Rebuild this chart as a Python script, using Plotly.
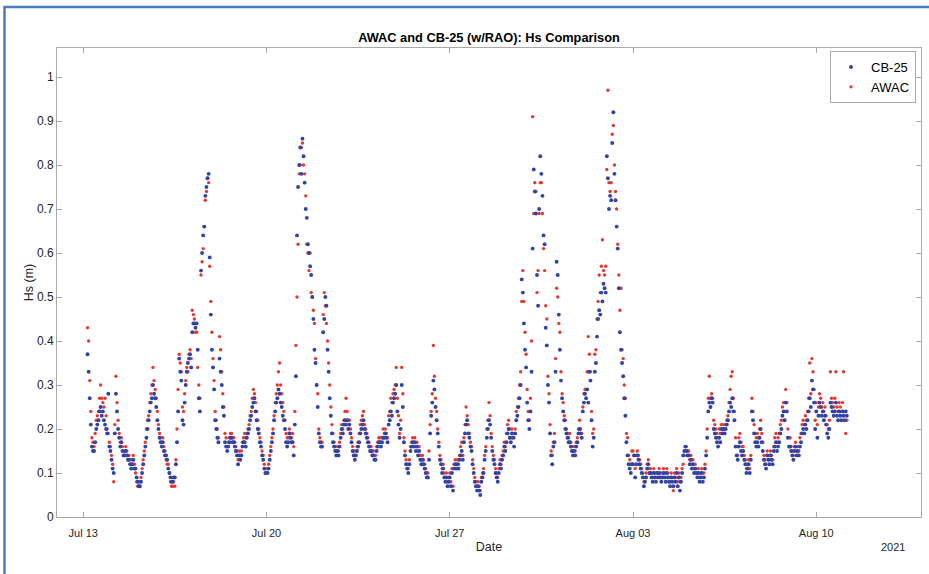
import plotly.graph_objects as go
import pandas as pd

# ---- data: Hs in metres, one row per day, hourly samples from 00:00 ----
start_day = "2021-07-13 00:00"
step_hours = 1
N = None

cb25_hs = [
    [N, N, N, N, 0.37, 0.33, 0.27, 0.21, 0.16, 0.15, 0.15, 0.17, 0.20, 0.21, 0.22, 0.24, 0.25, 0.23, 0.24, 0.22, 0.21, 0.20, 0.19, 0.28],  # Jul 13
    [0.16, 0.15, 0.13, 0.11, 0.10, 0.19, 0.28, 0.24, 0.20, 0.18, 0.16, 0.17, 0.15, 0.14, 0.14, 0.15, 0.14, 0.13, 0.13, 0.12, 0.11, 0.12, 0.13, 0.11],  # Jul 14
    [0.11, 0.09, 0.08, 0.07, 0.07, 0.08, 0.10, 0.12, 0.14, 0.16, 0.18, 0.20, 0.22, 0.24, 0.26, 0.27, 0.30, 0.28, 0.27, 0.25, 0.22, 0.20, 0.18, 0.17],  # Jul 15
    [0.16, 0.17, 0.15, 0.14, 0.14, 0.13, 0.11, 0.10, 0.09, 0.08, 0.08, 0.09, 0.09, 0.12, 0.17, 0.24, 0.36, 0.33, 0.31, 0.22, 0.21, 0.26, 0.30, 0.33],  # Jul 16
    [0.35, 0.36, 0.37, 0.34, 0.42, 0.44, 0.44, 0.43, 0.44, 0.38, 0.27, 0.24, 0.56, 0.60, 0.64, 0.66, 0.73, 0.75, 0.77, 0.78, 0.59, 0.46, 0.38, 0.34],  # Jul 17
    [0.29, 0.22, 0.20, 0.18, 0.17, 0.36, 0.33, 0.30, 0.25, 0.23, 0.17, 0.16, 0.15, 0.16, 0.17, 0.18, 0.18, 0.17, 0.17, 0.16, 0.15, 0.14, 0.12, 0.14],  # Jul 18
    [0.13, 0.14, 0.16, 0.17, 0.17, 0.16, 0.18, 0.19, 0.20, 0.22, 0.23, 0.25, 0.26, 0.27, 0.24, 0.22, 0.20, 0.19, 0.17, 0.16, 0.14, 0.13, 0.11, 0.10],  # Jul 19
    [0.10, 0.10, 0.11, 0.13, 0.15, 0.17, 0.19, 0.22, 0.24, 0.26, 0.27, 0.29, 0.28, 0.26, 0.25, 0.23, 0.22, 0.20, 0.17, 0.16, 0.17, 0.19, 0.18, 0.17],  # Jul 20
    [0.17, 0.14, 0.21, 0.32, 0.64, 0.75, 0.80, 0.84, 0.78, 0.86, 0.82, 0.76, 0.70, 0.68, 0.62, 0.60, 0.57, 0.55, 0.50, 0.45, 0.38, 0.35, 0.30, 0.25],  # Jul 21
    [0.19, 0.17, 0.16, 0.16, 0.42, 0.45, 0.50, 0.48, 0.38, 0.33, 0.27, 0.23, 0.19, 0.17, 0.16, 0.15, 0.14, 0.15, 0.14, 0.16, 0.18, 0.20, 0.19, 0.21],  # Jul 22
    [0.22, 0.21, 0.22, 0.20, 0.21, 0.19, 0.17, 0.15, 0.14, 0.13, 0.14, 0.15, 0.16, 0.17, 0.19, 0.20, 0.21, 0.22, 0.20, 0.19, 0.18, 0.17, 0.16, 0.15],  # Jul 23
    [0.15, 0.14, 0.14, 0.13, 0.13, 0.15, 0.16, 0.17, 0.17, 0.16, 0.17, 0.18, 0.18, 0.19, 0.18, 0.17, 0.21, 0.22, 0.24, 0.23, 0.26, 0.27, 0.28, 0.30],  # Jul 24
    [0.24, 0.21, 0.18, 0.20, 0.30, 0.25, 0.17, 0.14, 0.12, 0.11, 0.10, 0.12, 0.15, 0.16, 0.17, 0.16, 0.17, 0.15, 0.16, 0.14, 0.15, 0.13, 0.12, 0.13],  # Jul 25
    [0.12, 0.11, 0.10, 0.09, 0.09, 0.13, 0.19, 0.23, 0.26, 0.31, 0.29, 0.25, 0.22, 0.19, 0.16, 0.13, 0.12, 0.10, 0.11, 0.09, 0.08, 0.09, 0.07, 0.08],  # Jul 26
    [0.09, 0.07, 0.10, 0.06, 0.11, 0.12, 0.11, 0.12, 0.11, 0.13, 0.14, 0.15, 0.13, 0.17, 0.19, 0.21, 0.22, 0.19, 0.18, 0.16, 0.15, 0.12, 0.10, 0.08],  # Jul 27
    [0.07, 0.06, 0.07, 0.06, 0.05, 0.08, 0.09, 0.10, 0.13, 0.15, 0.18, 0.20, 0.22, 0.21, 0.18, 0.15, 0.13, 0.12, 0.10, 0.09, 0.08, 0.10, 0.12, 0.11],  # Jul 28
    [0.13, 0.14, 0.16, 0.15, 0.17, 0.19, 0.20, 0.18, 0.17, 0.19, 0.18, 0.16, 0.19, 0.22, 0.23, 0.25, 0.27, 0.30, 0.54, 0.51, 0.44, 0.38, 0.34, 0.26],  # Jul 29
    [0.22, 0.20, 0.24, 0.33, 0.61, 0.79, 0.74, 0.69, 0.55, 0.48, 0.70, 0.82, 0.78, 0.73, 0.64, 0.62, 0.43, 0.39, 0.30, 0.26, 0.19, 0.14, 0.12, 0.16],  # Jul 30
    [0.17, 0.33, 0.58, 0.55, 0.46, 0.38, 0.31, 0.27, 0.24, 0.22, 0.20, 0.19, 0.18, 0.17, 0.17, 0.16, 0.15, 0.14, 0.15, 0.14, 0.16, 0.17, 0.19, 0.20],  # Jul 31
    [0.19, 0.18, 0.24, 0.26, 0.28, 0.27, 0.29, 0.26, 0.33, 0.31, 0.22, 0.16, 0.18, 0.33, 0.35, 0.41, 0.45, 0.47, 0.46, 0.51, 0.49, 0.53, 0.52, 0.51],  # Aug 01
    [0.82, 0.77, 0.70, 0.73, 0.72, 0.85, 0.92, 0.78, 0.72, 0.66, 0.61, 0.52, 0.42, 0.38, 0.35, 0.32, 0.27, 0.23, 0.17, 0.14, 0.12, 0.11, 0.10, 0.12],  # Aug 02
    [0.12, 0.14, 0.09, 0.12, 0.14, 0.13, 0.12, 0.11, 0.10, 0.09, 0.07, 0.08, 0.09, 0.11, 0.12, 0.10, 0.10, 0.09, 0.08, 0.10, 0.09, 0.08, 0.10, 0.09],  # Aug 03
    [0.10, 0.09, 0.08, 0.09, 0.10, 0.09, 0.08, 0.10, 0.09, 0.08, 0.07, 0.09, 0.08, 0.07, 0.09, 0.08, 0.10, 0.07, 0.09, 0.06, 0.08, 0.10, 0.14, 0.15],  # Aug 04
    [0.16, 0.15, 0.14, 0.14, 0.12, 0.13, 0.11, 0.12, 0.10, 0.11, 0.10, 0.09, 0.10, 0.08, 0.09, 0.10, 0.08, 0.09, 0.11, 0.14, 0.18, 0.24, 0.26, 0.25],  # Aug 05
    [0.27, 0.26, 0.20, 0.19, 0.18, 0.17, 0.16, 0.18, 0.17, 0.20, 0.19, 0.20, 0.19, 0.20, 0.21, 0.22, 0.24, 0.26, 0.25, 0.27, 0.24, 0.22, 0.16, 0.14],  # Aug 06
    [0.13, 0.16, 0.17, 0.15, 0.14, 0.15, 0.13, 0.12, 0.10, 0.11, 0.12, 0.10, 0.13, 0.24, 0.22, 0.19, 0.17, 0.16, 0.17, 0.16, 0.18, 0.20, 0.17, 0.15],  # Aug 07
    [0.13, 0.12, 0.11, 0.14, 0.13, 0.12, 0.14, 0.13, 0.12, 0.15, 0.16, 0.17, 0.15, 0.16, 0.17, 0.19, 0.20, 0.23, 0.24, 0.22, 0.26, 0.24, 0.18, 0.16],  # Aug 08
    [0.16, 0.15, 0.14, 0.13, 0.15, 0.16, 0.14, 0.15, 0.14, 0.16, 0.17, 0.19, 0.20, 0.19, 0.21, 0.20, 0.22, 0.24, 0.27, 0.25, 0.31, 0.29, 0.26, 0.20],  # Aug 09
    [0.24, 0.18, 0.23, 0.26, 0.25, 0.23, 0.24, 0.22, 0.23, 0.21, 0.19, 0.18, 0.20, 0.26, 0.25, 0.24, 0.23, 0.24, 0.26, 0.23, 0.22, 0.24, 0.23, 0.22],  # Aug 10
    [0.24, 0.23, 0.22, 0.24, 0.23],                                                                                                      # Aug 11
]

awac_hs = [
    [N, N, N, N, 0.43, 0.40, 0.31, 0.24, 0.18, 0.17, 0.16, 0.19, 0.22, 0.23, 0.24, 0.27, 0.30, 0.27, 0.26, 0.25, 0.27, 0.23, 0.20, 0.19],  # Jul 13
    [0.17, 0.16, 0.14, 0.12, 0.08, 0.21, 0.32, 0.26, 0.22, 0.19, 0.17, 0.18, 0.16, 0.15, 0.15, 0.16, 0.15, 0.14, 0.14, 0.13, 0.12, 0.13, 0.14, 0.12],  # Jul 14
    [0.10, 0.08, 0.07, 0.07, 0.08, 0.09, 0.11, 0.13, 0.15, 0.17, 0.20, 0.22, 0.23, 0.26, 0.28, 0.30, 0.34, 0.31, 0.29, 0.27, 0.24, 0.21, 0.19, 0.18],  # Jul 15
    [0.17, 0.18, 0.16, 0.15, 0.13, 0.12, 0.12, 0.10, 0.08, 0.07, 0.07, 0.08, 0.07, 0.13, 0.20, 0.29, 0.37, 0.35, 0.33, 0.25, 0.24, 0.28, 0.31, 0.34],  # Jul 16
    [0.33, 0.37, 0.38, 0.36, 0.47, 0.46, 0.45, 0.42, 0.42, 0.34, 0.30, 0.27, 0.55, 0.58, 0.61, 0.66, 0.72, 0.74, 0.77, 0.76, 0.57, 0.49, 0.42, 0.36],  # Jul 17
    [0.31, 0.24, 0.22, 0.20, 0.18, 0.41, 0.38, 0.33, 0.28, 0.25, 0.19, 0.18, 0.16, 0.17, 0.18, 0.19, 0.19, 0.18, 0.18, 0.17, 0.16, 0.15, 0.13, 0.15],  # Jul 18
    [0.14, 0.15, 0.17, 0.18, 0.19, 0.18, 0.19, 0.20, 0.21, 0.23, 0.24, 0.27, 0.29, 0.28, 0.26, 0.24, 0.22, 0.20, 0.18, 0.17, 0.15, 0.14, 0.12, 0.11],  # Jul 19
    [0.10, 0.11, 0.12, 0.14, 0.16, 0.18, 0.20, 0.23, 0.26, 0.28, 0.30, 0.33, 0.35, 0.30, 0.28, 0.26, 0.24, 0.22, 0.19, 0.18, 0.18, 0.20, 0.19, 0.18],  # Jul 20
    [0.19, 0.16, 0.24, 0.39, 0.50, 0.62, 0.78, 0.80, 0.84, 0.85, 0.80, 0.78, 0.73, 0.62, 0.60, 0.56, 0.60, 0.51, 0.50, 0.47, 0.44, 0.36, 0.30, 0.28],  # Jul 21
    [0.20, 0.18, 0.17, 0.17, 0.46, 0.51, 0.48, 0.44, 0.40, 0.35, 0.30, 0.25, 0.21, 0.19, 0.17, 0.16, 0.15, 0.16, 0.15, 0.17, 0.19, 0.21, 0.20, 0.22],  # Jul 22
    [0.24, 0.27, 0.24, 0.22, 0.22, 0.20, 0.18, 0.16, 0.15, 0.14, 0.15, 0.16, 0.17, 0.19, 0.21, 0.22, 0.23, 0.24, 0.21, 0.20, 0.19, 0.18, 0.17, 0.16],  # Jul 23
    [0.16, 0.15, 0.15, 0.14, 0.14, 0.16, 0.17, 0.18, 0.18, 0.17, 0.18, 0.20, 0.19, 0.20, 0.19, 0.18, 0.23, 0.24, 0.27, 0.26, 0.28, 0.29, 0.30, 0.34],  # Jul 24
    [0.27, 0.23, 0.19, 0.22, 0.34, 0.28, 0.18, 0.15, 0.13, 0.12, 0.11, 0.13, 0.16, 0.17, 0.18, 0.17, 0.18, 0.16, 0.17, 0.15, 0.16, 0.14, 0.13, 0.14],  # Jul 25
    [0.13, 0.12, 0.11, 0.10, 0.10, 0.15, 0.21, 0.24, 0.28, 0.39, 0.32, 0.27, 0.24, 0.20, 0.17, 0.14, 0.13, 0.11, 0.12, 0.10, 0.09, 0.10, 0.08, 0.09],  # Jul 26
    [0.10, 0.08, 0.11, 0.07, 0.12, 0.13, 0.12, 0.13, 0.12, 0.14, 0.16, 0.17, 0.14, 0.18, 0.21, 0.25, 0.23, 0.21, 0.19, 0.17, 0.16, 0.13, 0.11, 0.09],  # Jul 27
    [0.08, 0.07, 0.08, 0.07, 0.06, 0.09, 0.10, 0.11, 0.14, 0.16, 0.20, 0.22, 0.26, 0.23, 0.19, 0.16, 0.14, 0.13, 0.11, 0.10, 0.09, 0.11, 0.13, 0.12],  # Jul 28
    [0.14, 0.15, 0.17, 0.16, 0.19, 0.21, 0.22, 0.20, 0.18, 0.20, 0.19, 0.18, 0.20, 0.24, 0.25, 0.27, 0.30, 0.33, 0.49, 0.56, 0.49, 0.42, 0.37, 0.29],  # Jul 29
    [0.24, 0.22, 0.27, 0.40, 0.91, 0.69, 0.76, 0.74, 0.51, 0.56, 0.69, 0.76, 0.76, 0.69, 0.61, 0.56, 0.48, 0.45, 0.32, 0.28, 0.21, 0.15, 0.14, 0.17],  # Jul 30
    [0.19, 0.36, 0.52, 0.50, 0.44, 0.42, 0.33, 0.28, 0.26, 0.23, 0.22, 0.20, 0.19, 0.18, 0.19, 0.17, 0.16, 0.15, 0.16, 0.15, 0.17, 0.18, 0.20, 0.22],  # Jul 31
    [0.20, 0.19, 0.25, 0.28, 0.29, 0.29, 0.33, 0.41, 0.37, 0.33, 0.24, 0.19, 0.20, 0.37, 0.38, 0.45, 0.49, 0.55, 0.51, 0.57, 0.63, 0.56, 0.55, 0.57],  # Aug 01
    [0.79, 0.97, 0.76, 0.74, 0.76, 0.87, 0.89, 0.80, 0.74, 0.70, 0.62, 0.55, 0.47, 0.52, 0.38, 0.36, 0.30, 0.27, 0.19, 0.18, 0.14, 0.13, 0.12, 0.15],  # Aug 02
    [0.15, 0.14, 0.11, 0.14, 0.15, 0.14, 0.13, 0.12, 0.11, 0.10, 0.08, 0.09, 0.10, 0.12, 0.13, 0.11, 0.11, 0.10, 0.09, 0.11, 0.10, 0.09, 0.10, 0.10],  # Aug 03
    [0.11, 0.10, 0.09, 0.10, 0.11, 0.10, 0.09, 0.11, 0.10, 0.09, 0.08, 0.10, 0.09, 0.06, 0.10, 0.09, 0.11, 0.08, 0.10, 0.08, 0.09, 0.11, 0.12, 0.14],  # Aug 04
    [0.16, 0.16, 0.15, 0.15, 0.13, 0.14, 0.12, 0.13, 0.11, 0.12, 0.11, 0.10, 0.11, 0.09, 0.10, 0.11, 0.09, 0.10, 0.12, 0.15, 0.20, 0.27, 0.32, 0.27],  # Aug 05
    [0.28, 0.27, 0.22, 0.21, 0.20, 0.19, 0.18, 0.20, 0.19, 0.21, 0.20, 0.21, 0.20, 0.21, 0.22, 0.23, 0.26, 0.29, 0.32, 0.33, 0.27, 0.24, 0.18, 0.16],  # Aug 06
    [0.14, 0.18, 0.19, 0.17, 0.16, 0.16, 0.14, 0.13, 0.11, 0.12, 0.13, 0.11, 0.14, 0.27, 0.24, 0.21, 0.19, 0.18, 0.19, 0.18, 0.20, 0.22, 0.19, 0.17],  # Aug 07
    [0.14, 0.13, 0.12, 0.15, 0.14, 0.13, 0.15, 0.14, 0.13, 0.16, 0.18, 0.19, 0.17, 0.18, 0.19, 0.21, 0.22, 0.25, 0.26, 0.24, 0.29, 0.26, 0.20, 0.18],  # Aug 08
    [0.18, 0.16, 0.15, 0.14, 0.16, 0.17, 0.15, 0.16, 0.15, 0.18, 0.19, 0.21, 0.22, 0.21, 0.23, 0.22, 0.24, 0.27, 0.35, 0.28, 0.36, 0.33, 0.29, 0.22],  # Aug 09
    [0.26, 0.21, 0.25, 0.28, 0.27, 0.25, 0.26, 0.24, 0.25, 0.23, 0.21, 0.20, 0.22, 0.33, 0.27, 0.26, 0.25, 0.27, 0.33, 0.25, 0.24, 0.26, 0.25, 0.24],  # Aug 10
    [0.26, 0.33, 0.24, 0.19, 0.22],                                                                                                      # Aug 11
]

tick_dates = ["2021-07-13", "2021-07-20", "2021-07-27", "2021-08-03", "2021-08-10"]
tick_text = ["Jul 13", "Jul 20", "Jul 27", "Aug 03", "Aug 10"]
y_ticks = [0, 0.1, 0.2, 0.3, 0.4, 0.5, 0.6, 0.7, 0.8, 0.9, 1.0]
y_tick_text = ["0", "0.1", "0.2", "0.3", "0.4", "0.5", "0.6", "0.7", "0.8", "0.9", "1"]


def to_series(days):
    t0 = pd.Timestamp(start_day)
    times, vals = [], []
    for d, row in enumerate(days):
        for i, v in enumerate(row):
            if v is not None:
                times.append(t0 + pd.Timedelta(days=d, hours=step_hours * i))
                vals.append(v)
    return times, vals


t_cb, v_cb = to_series(cb25_hs)
t_aw, v_aw = to_series(awac_hs)

BLUE = "#3044a6"
RED = "#e23a33"
AXIS = "#a9a9a9"
TXT = "#262626"
FONT = "Liberation Sans, Arial, sans-serif"

fig = go.Figure()
fig.add_trace(go.Scatter(x=t_aw, y=v_aw, mode="markers", name="AWAC",
                         marker=dict(color=RED, size=3.4, line=dict(width=0))))
fig.add_trace(go.Scatter(x=t_cb, y=v_cb, mode="markers", name="CB-25",
                         marker=dict(color=BLUE, size=3.9, line=dict(width=0))))

fig.update_layout(
    width=929, height=574,
    margin=dict(l=57, r=8, t=48, b=57),
    paper_bgcolor="white", plot_bgcolor="white",
    font=dict(family=FONT, color=TXT, size=11),
    title=dict(text="<b>AWAC and CB-25 (w/RAO): Hs Comparison</b>",
               x=0.5, xref="paper", xanchor="center",
               y=1 - 38 / 574, yanchor="middle",
               font=dict(size=12.8, color="black", family=FONT)),
    showlegend=True,
    legend=dict(x=0.9942, y=0.9936, xanchor="right", yanchor="top",
                traceorder="reversed", bgcolor="white",
                bordercolor=AXIS, borderwidth=1, itemwidth=30,
                font=dict(size=13, color="black", family=FONT),
                tracegroupgap=0),
)

fig.update_xaxes(
    type="date", range=["2021-07-12 00:00", "2021-08-14 00:00"],
    tickmode="array", tickvals=tick_dates, ticktext=tick_text,
    ticks="inside", ticklen=5, tickcolor=AXIS, tickwidth=1,
    showline=True, linecolor=AXIS, linewidth=1, mirror="ticks",
    showgrid=False, zeroline=False, ticklabelstandoff=6,
    tickfont=dict(size=11, color=TXT),
    title=dict(text="Date", font=dict(size=12.5, color=TXT), standoff=4),
)
fig.update_yaxes(
    range=[0, 1.066], tickmode="array", tickvals=y_ticks, ticktext=y_tick_text,
    ticks="inside", ticklen=5, tickcolor=AXIS, tickwidth=1,
    showline=True, linecolor=AXIS, linewidth=1, mirror="ticks",
    showgrid=False, zeroline=False,
    tickfont=dict(size=12, color=TXT),
    title=dict(text="Hs (m)", font=dict(size=12.5, color=TXT), standoff=0),
)

# year label under the right end of the date axis
fig.add_annotation(text="2021", xref="paper", yref="paper",
                   x=(893 - 57) / 864, y=(517 - 547) / 469,
                   xanchor="center", yanchor="middle", showarrow=False,
                   font=dict(size=11, color=TXT))

# blue frame around the figure (top and left edges visible)
fig.add_shape(type="rect", xref="paper", yref="paper",
              x0=(4.5 - 57) / 864, x1=1.2, y0=-0.4, y1=(517 - 7) / 469,
              line=dict(color="#4a7ebb", width=2.5), fillcolor="rgba(0,0,0,0)",
              layer="above")

fig.write_html("out.html")
